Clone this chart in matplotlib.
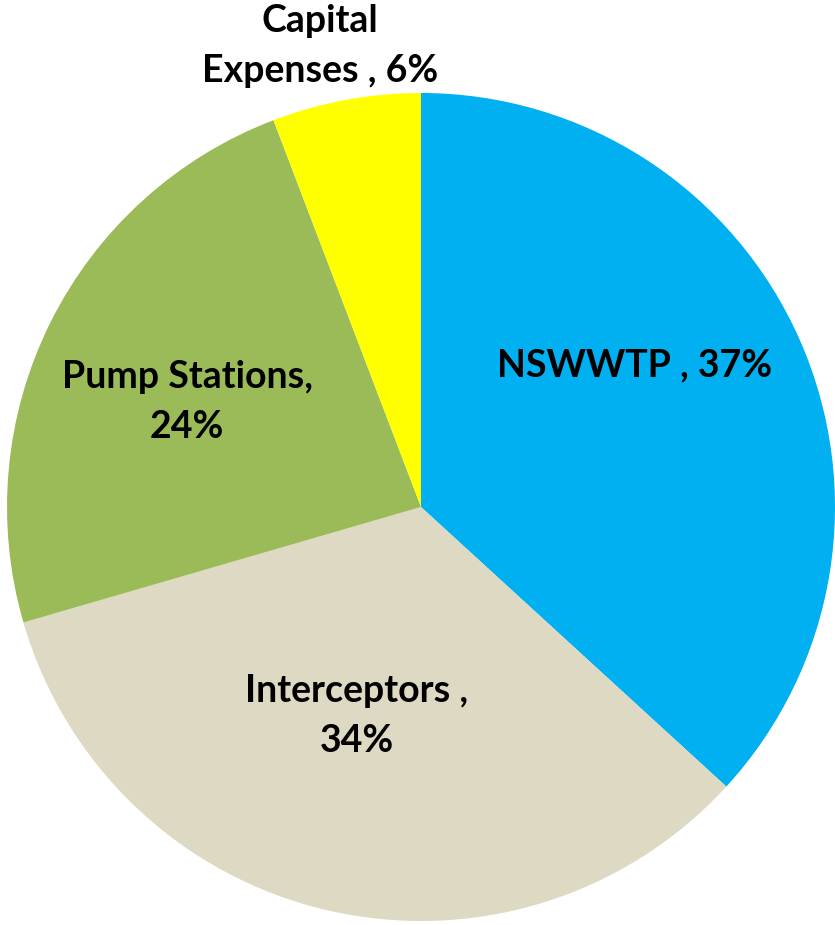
import matplotlib
matplotlib.use('Agg')
import matplotlib.pyplot as plt

categories = ['NSWWTP', 'Interceptors', 'Pump Stations', 'Capital Expenses']
shares = [36.8, 33.7, 23.7, 5.8]
labels = ['NSWWTP , 37%', 'Interceptors ,\n34%', 'Pump Stations,\n24%', 'Capital\nExpenses , 6%']
colors = ['#00B0F0', '#DDD9C3', '#9BBB59', '#FFFF00']

fig = plt.figure(figsize=(8.35, 9.25), dpi=100)
ax = fig.add_axes([0, 0, 1, 1])

cx, cy, r = 421, 925 - 507, 414
wedges, _ = ax.pie(shares, colors=colors, startangle=90, counterclock=False,
                   center=(cx, cy), radius=r, frame=True,
                   wedgeprops=dict(linewidth=0))
ax.set_xlim(0, 835)
ax.set_ylim(0, 925)
ax.set_aspect('equal')
ax.axis('off')

# label positions in pixel space (x, y from top)
label_pos = [(635, 365), (357, 716), (187, 402), (320, 46)]
for lab, (x, y) in zip(labels, label_pos):
    ax.text(x, 925 - y, lab, ha='center', va='center', fontsize=27,
            fontweight='bold', family='Lato', linespacing=1.55, color='black')

fig.savefig('out.png', dpi=100)
